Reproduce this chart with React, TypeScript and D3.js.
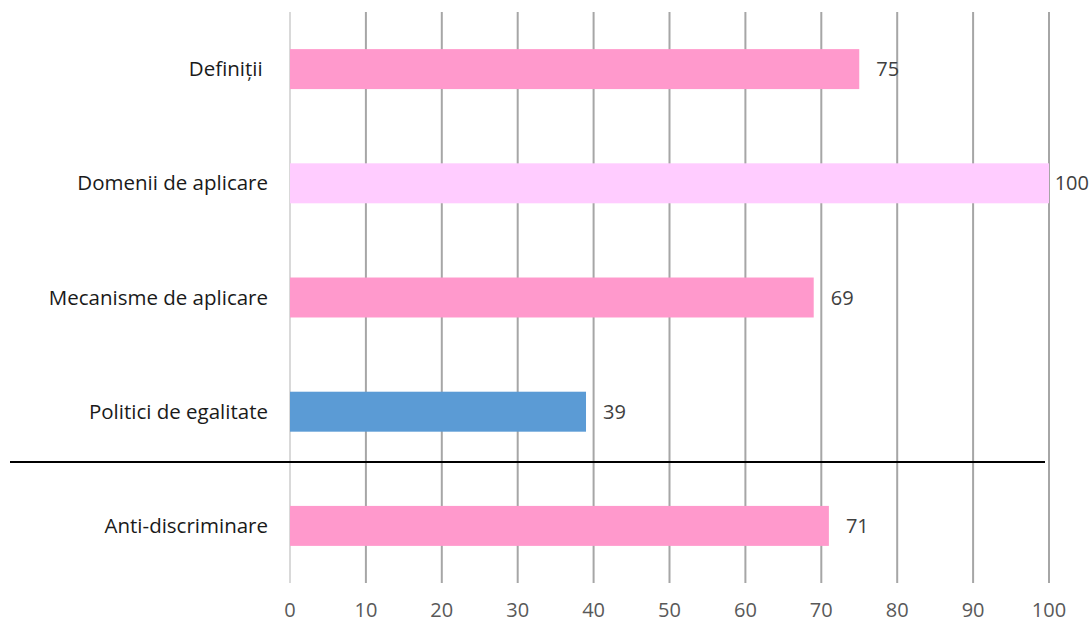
import React from "react";
import * as d3 from "d3";

const categories = ["Definiții ", "Domenii de aplicare", "Mecanisme de aplicare", "Politici de egalitate", "Anti-discriminare"];
const values = [75, 100, 69, 39, 71];
const barColors = ["#ff99cc", "#ffccff", "#ff99cc", "#5b9bd5", "#ff99cc"];
const xTicks = [0, 10, 20, 30, 40, 50, 60, 70, 80, 90, 100];

const W = 1090;
const H = 624;
const FONT = "'Open Sans', 'Liberation Sans', sans-serif";

export default function App() {
  const x = d3.scaleLinear().domain([0, 100]).range([290, 1049]);
  const y = d3.scaleBand<string>().domain(categories).range([12, 583]).paddingInner(0.65).paddingOuter(0.325);
  const sepY = (y(categories[4]) as number) - 44;

  return (
    <svg width={W} height={H} style={{ position: "absolute", left: 0, top: 0, background: "#fff" }} fontFamily={FONT}>
      {xTicks.map((t) => (
        <line key={"g" + t} x1={x(t)} x2={x(t)} y1={12} y2={583} stroke={t === 0 ? "#d9d9d9" : "#a6a6a6"} strokeWidth={2} />
      ))}
      {categories.map((c, i) => {
        const by = y(c) as number;
        const bh = y.bandwidth();
        const xe = x(values[i]);
        const lx = xe + 17;
        const clamp = lx > W - 60;
        return (
          <g key={c}>
            <rect x={x(0)} y={by} width={xe - x(0)} height={bh} fill={barColors[i]} />
            <text x={268} y={by + bh / 2} dy="0.35em" textAnchor="end" fontSize={20.5} fill="#1a1a1a" style={{ whiteSpace: "pre" }}>{c}</text>
            <text x={clamp ? W - 1 : lx} y={by + bh / 2} dy="0.35em" textAnchor={clamp ? "end" : "start"} fontSize={20} fill="#404040">{values[i]}</text>
          </g>
        );
      })}
      <line x1={10} x2={1045} y1={sepY} y2={sepY} stroke="#000" strokeWidth={2} />
      {xTicks.map((t) => (
        <text key={"t" + t} x={x(t)} y={610} dy="0.35em" textAnchor="middle" fontSize={20} fill="#595959">{t}</text>
      ))}
    </svg>
  );
}
